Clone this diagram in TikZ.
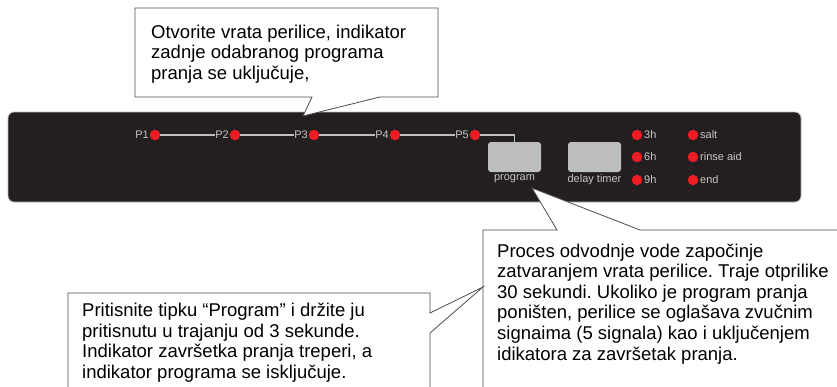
\documentclass[tikz,border=0pt]{standalone}
\usepackage{fontspec}
\setmainfont{Liberation Sans}
\usetikzlibrary{positioning}
\definecolor{panelbg}{HTML}{231F20}
\definecolor{ledred}{HTML}{EE1C25}
\definecolor{keygray}{HTML}{BCBEC0}
\definecolor{linegray}{HTML}{4D4D4D}
\frenchspacing

\begin{document}
\begin{tikzpicture}
    [
        x=1pt, y=-1pt,
        led/.style={circle, fill=ledred, minimum size=10.5pt, inner sep=0pt},
        lbl/.style={font=\fontsize{11}{12}\selectfont, text=white!78!black, inner sep=0.5pt},
        key/.style={rectangle, rounded corners=3pt, fill=keygray, minimum width=53pt, minimum height=30pt},
        note/.style={align=left, font=\fontsize{18.5}{20.6}\selectfont, anchor=north west, inner sep=0pt},
        bubble/.style={draw=linegray, fill=white, line width=0.8pt},
    ]
    \useasboundingbox (0,0) rectangle (837,386);
    \clip (0,0) rectangle (837,386);

    % panel
    \draw[fill=panelbg, draw=gray!55, rounded corners=6pt, line width=0.8pt] (8,112) rectangle (801,202);

    \foreach \i/\x in {1/155, 2/235, 3/314, 4/395, 5/475} {
        \node[led] (p\i) at (\x,135) {};
        \node[lbl, left=0pt of p\i] (p\i lbl) {P\i};
    }
    \foreach \i/\j in {1/2, 2/3, 3/4, 4/5}
        \draw[white!75!black, line width=1.2pt] (p\i.east) -- (p\j lbl.west);

    \node[key] (program) at (514.5,157) {};
    \node[key] (delay) at (594.5,157) {};
    \node[lbl, below=2pt of program] (program lbl) {program};
    \node[lbl, below=2pt of delay] (delay lbl) {delay timer};
    \draw[white!75!black, line width=1.2pt] (p5.east) -| (program.north);

    \foreach \t/\y [count=\n] in {3h/135, 6h/157, 9h/180} {
        \node[led] (time\n) at (637,\y) {};
        \node[lbl, right=1pt of time\n] (time\n lbl) {\t};
    }
    \foreach \t/\y [count=\n] in {salt/135, rinse aid/157, end/180} {
        \node[led] (state\n) at (693,\y) {};
        \node[lbl, right=1pt of state\n] (state\n lbl) {\t};
    }

    % callouts
    \coordinate (top tip) at (303,116);
    \coordinate (right tip) at (532,188);
    \coordinate (left tip) at (483,287);

    \draw[bubble] (135,8) -- (438,8) -- (438,97) -- (380,97) -- (top tip) -- (312,97) -- (135,97) -- cycle;
    \node[note] (open note) at (151,24.5) {Otvorite vrata perilice, indikator\\zadnje odabranog programa\\pranja se uključuje,};

    \draw[bubble] (483,230) -- (557,230) -- (right tip) -- (640,230) -- (850,230) -- (850,400) -- (483,400) -- cycle;
    \node[note] (drain note) at (497,243.5) {Proces odvodnje vode započinje\\zatvaranjem vrata perilice. Traje otprilike\\30 sekundi. Ukoliko je program pranja\\poništen, perilice se oglašava zvučnim\\signaima (5 signala) kao i uključenjem\\idikatora za završetak pranja.};

    \draw[bubble] (68,293) -- (430,293) -- (430,313) -- (left tip) -- (430,333) -- (430,400) -- (68,400) -- cycle;
    \node[note] (press note) at (82,303) {Pritisnite tipku “Program” i držite ju\\pritisnutu u trajanju od 3 sekunde.\\Indikator završetka pranja treperi, a\\indikator programa se isključuje.};
\end{tikzpicture}
\end{document}
